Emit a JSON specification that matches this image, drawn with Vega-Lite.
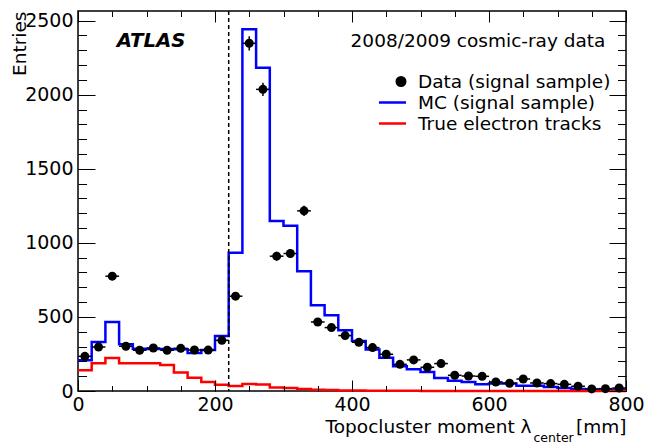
{
  "$schema": "https://vega.github.io/schema/vega-lite/v6.json",
  "width": 548,
  "height": 380,
  "autosize": {"type": "none"},
  "padding": {"left": 78, "top": 11, "right": 19, "bottom": 53},
  "background": "white",
  "config": {
    "view": {"stroke": "black", "strokeWidth": 1.5},
    "axis": {"grid": false, "domain": false, "labelFont": "DejaVu Sans", "titleFont": "DejaVu Sans", "labelColor": "black", "titleColor": "black", "tickColor": "black", "tickWidth": 1, "titleFontWeight": "normal", "labelFlush": false, "labelOverlap": false, "format": "d"}
  },
  "datasets": {
    "hist": [
      {"edge": 0, "mc": 208, "el": 140}, {"edge": 20, "mc": 331, "el": 188}, {"edge": 40, "mc": 466, "el": 223},
      {"edge": 60, "mc": 315, "el": 188}, {"edge": 80, "mc": 285, "el": 188}, {"edge": 100, "mc": 283, "el": 187},
      {"edge": 120, "mc": 283, "el": 175}, {"edge": 140, "mc": 282, "el": 125}, {"edge": 160, "mc": 257, "el": 89},
      {"edge": 180, "mc": 277, "el": 61}, {"edge": 200, "mc": 372, "el": 43}, {"edge": 220, "mc": 933, "el": 33},
      {"edge": 240, "mc": 2442, "el": 48}, {"edge": 260, "mc": 2182, "el": 44}, {"edge": 280, "mc": 1147, "el": 23},
      {"edge": 300, "mc": 1115, "el": 20}, {"edge": 320, "mc": 809, "el": 13}, {"edge": 340, "mc": 579, "el": 9},
      {"edge": 360, "mc": 511, "el": 6}, {"edge": 380, "mc": 410, "el": 4}, {"edge": 400, "mc": 338, "el": 3},
      {"edge": 420, "mc": 280, "el": 2}, {"edge": 440, "mc": 225, "el": 1}, {"edge": 460, "mc": 167, "el": 1},
      {"edge": 480, "mc": 146, "el": 1}, {"edge": 500, "mc": 128, "el": 0}, {"edge": 520, "mc": 88, "el": 0},
      {"edge": 540, "mc": 70, "el": 0}, {"edge": 560, "mc": 61, "el": 0}, {"edge": 580, "mc": 45, "el": 0},
      {"edge": 600, "mc": 50, "el": 0}, {"edge": 620, "mc": 50, "el": 0}, {"edge": 640, "mc": 36, "el": 0},
      {"edge": 660, "mc": 36, "el": 0}, {"edge": 680, "mc": 27, "el": 0}, {"edge": 700, "mc": 20, "el": 0},
      {"edge": 720, "mc": 14, "el": 0}, {"edge": 740, "mc": 8, "el": 0}, {"edge": 760, "mc": 8, "el": 0},
      {"edge": 780, "mc": 8, "el": 0}, {"edge": 800, "mc": 8, "el": 0}
    ],
    "pts": [
      {"lo": 0, "hi": 20, "x": 10, "n": 234, "err": 15}, {"lo": 20, "hi": 40, "x": 30, "n": 297, "err": 17},
      {"lo": 40, "hi": 60, "x": 50, "n": 775, "err": 28}, {"lo": 60, "hi": 80, "x": 70, "n": 302, "err": 17},
      {"lo": 80, "hi": 100, "x": 90, "n": 275, "err": 17}, {"lo": 100, "hi": 120, "x": 110, "n": 290, "err": 17},
      {"lo": 120, "hi": 140, "x": 130, "n": 275, "err": 17}, {"lo": 140, "hi": 160, "x": 150, "n": 288, "err": 17},
      {"lo": 160, "hi": 180, "x": 170, "n": 277, "err": 17}, {"lo": 180, "hi": 200, "x": 190, "n": 276, "err": 17},
      {"lo": 200, "hi": 220, "x": 210, "n": 342, "err": 18}, {"lo": 220, "hi": 240, "x": 230, "n": 640, "err": 25},
      {"lo": 240, "hi": 260, "x": 250, "n": 2347, "err": 48}, {"lo": 260, "hi": 280, "x": 270, "n": 2036, "err": 45},
      {"lo": 280, "hi": 300, "x": 290, "n": 910, "err": 30}, {"lo": 300, "hi": 320, "x": 310, "n": 928, "err": 30},
      {"lo": 320, "hi": 340, "x": 330, "n": 1216, "err": 35}, {"lo": 340, "hi": 360, "x": 350, "n": 466, "err": 22},
      {"lo": 360, "hi": 380, "x": 370, "n": 428, "err": 21}, {"lo": 380, "hi": 400, "x": 390, "n": 374, "err": 19},
      {"lo": 400, "hi": 420, "x": 410, "n": 329, "err": 18}, {"lo": 420, "hi": 440, "x": 430, "n": 293, "err": 17},
      {"lo": 440, "hi": 460, "x": 450, "n": 248, "err": 16}, {"lo": 460, "hi": 480, "x": 470, "n": 180, "err": 13},
      {"lo": 480, "hi": 500, "x": 490, "n": 210, "err": 14}, {"lo": 500, "hi": 520, "x": 510, "n": 160, "err": 13},
      {"lo": 520, "hi": 540, "x": 530, "n": 185, "err": 14}, {"lo": 540, "hi": 560, "x": 550, "n": 106, "err": 10},
      {"lo": 560, "hi": 580, "x": 570, "n": 101, "err": 10}, {"lo": 580, "hi": 600, "x": 590, "n": 99, "err": 10},
      {"lo": 600, "hi": 620, "x": 610, "n": 61, "err": 8}, {"lo": 620, "hi": 640, "x": 630, "n": 52, "err": 7},
      {"lo": 640, "hi": 660, "x": 650, "n": 81, "err": 9}, {"lo": 660, "hi": 680, "x": 670, "n": 54, "err": 7},
      {"lo": 680, "hi": 700, "x": 690, "n": 50, "err": 7}, {"lo": 700, "hi": 720, "x": 710, "n": 45, "err": 7},
      {"lo": 720, "hi": 740, "x": 730, "n": 32, "err": 6}, {"lo": 740, "hi": 760, "x": 750, "n": 14, "err": 4},
      {"lo": 760, "hi": 780, "x": 770, "n": 16, "err": 4}, {"lo": 780, "hi": 800, "x": 790, "n": 20, "err": 4}
    ]
  },
  "layer": [
    {
      "data": {"name": "hist"},
      "mark": {"type": "line", "interpolate": "step-after", "strokeWidth": 2.5},
      "encoding": {
        "x": {"field": "edge", "type": "quantitative", "scale": {"domain": [0, 800], "nice": false, "zero": false},
          "axis": {"orient": "bottom", "values": [0, 200, 400, 600, 800], "ticks": false, "labelFontSize": 19, "labelPadding": 4,
            "title": "Topocluster moment λ", "titleFontSize": 18.5, "titleAlign": "right", "titleX": 453, "titleY": 41, "titleBaseline": "alphabetic", "titleAngle": 0}},
        "y": {"field": "mc", "type": "quantitative", "scale": {"domain": [0, 2565], "nice": false, "zero": false},
          "axis": {"orient": "left", "values": [0, 500, 1000, 1500, 2000, 2500], "ticks": false, "labelFontSize": 19, "labelPadding": 5,
            "title": "Entries", "titleFontSize": 18.5, "titleAngle": -90, "titleAlign": "right", "titleX": -53, "titleY": 0, "titleBaseline": "alphabetic"}},
        "color": {"datum": "MC (signal sample)",
          "scale": {"domain": ["Data (signal sample)", "MC (signal sample)", "True electron tracks"], "range": ["black", "#0000ff", "#ff0000"]},
          "legend": {"title": null, "orient": "none", "legendX": 300, "legendY": 60, "padding": 0,
            "labelFont": "DejaVu Sans", "labelFontSize": 18.5, "labelColor": "black", "labelOffset": 19, "labelLimit": 0,
            "symbolSize": 324, "symbolStrokeWidth": 2.5, "rowPadding": 1,
            "encode": {"symbols": {"update": {
              "shape": {"signal": "datum.value === 'Data (signal sample)' ? 'circle' : 'M-1.5,0H1.5'"},
              "size": {"signal": "datum.value === 'Data (signal sample)' ? 72 : 324"},
              "fill": {"signal": "datum.value === 'Data (signal sample)' ? 'black' : 'transparent'"},
              "stroke": {"signal": "datum.value === 'Data (signal sample)' ? 'transparent' : (datum.value === 'MC (signal sample)' ? '#0000ff' : '#ff0000')"},
              "strokeWidth": {"value": 2.5},
              "opacity": {"value": 1},
              "x": {"signal": "datum.value === 'Data (signal sample)' ? 23 : 14.5"}
            }}}}}
      }
    },
    {
      "data": {"name": "hist"},
      "mark": {"type": "line", "interpolate": "step-after", "strokeWidth": 2.5},
      "encoding": {
        "x": {"field": "edge", "type": "quantitative", "scale": {"domain": [0, 800], "nice": false, "zero": false},
          "axis": {"orient": "bottom", "values": [0, 200, 400, 600, 800], "labels": false, "tickSize": -11, "title": null, "zindex": 1}},
        "y": {"field": "el", "type": "quantitative", "scale": {"domain": [0, 2565], "nice": false, "zero": false},
          "axis": {"orient": "left", "values": [0, 500, 1000, 1500, 2000, 2500], "labels": false, "tickSize": -17, "title": null, "zindex": 1}},
        "color": {"datum": "True electron tracks"}
      }
    },
    {
      "data": {"values": [{}]},
      "mark": {"type": "rule", "strokeDash": [4, 3], "strokeWidth": 1.5, "color": "black"},
      "encoding": {
        "x": {"datum": 220, "type": "quantitative", "scale": {"domain": [0, 800], "nice": false, "zero": false}, "axis": null}
      }
    },
    {
      "data": {"name": "pts"},
      "mark": {"type": "rule", "strokeWidth": 1.5, "color": "black"},
      "encoding": {
        "x": {"field": "lo", "type": "quantitative", "scale": {"domain": [0, 800], "nice": false, "zero": false},
          "axis": {"orient": "top", "values": [0, 200, 400, 600, 800], "labels": false, "tickSize": -11, "title": null, "zindex": 1}},
        "x2": {"field": "hi"},
        "y": {"field": "n", "type": "quantitative", "scale": {"domain": [0, 2565], "nice": false, "zero": false},
          "axis": {"orient": "right", "values": [0, 500, 1000, 1500, 2000, 2500], "labels": false, "tickSize": -17, "title": null, "zindex": 1}}
      }
    },
    {
      "data": {"name": "pts"},
      "mark": {"type": "errorbar", "color": "black", "thickness": 1.5},
      "encoding": {
        "x": {"field": "x", "type": "quantitative", "scale": {"domain": [0, 800], "nice": false, "zero": false},
          "axis": {"orient": "top", "values": [0, 50, 100, 150, 200, 250, 300, 350, 400, 450, 500, 550, 600, 650, 700, 750, 800], "labels": false, "tickSize": -5.5, "zindex": 1,
            "title": "[mm]", "titleFontSize": 18.5, "titleAlign": "right", "titleX": 548, "titleY": 421, "titleBaseline": "alphabetic", "titleAngle": 0}},
        "y": {"field": "n", "type": "quantitative", "scale": {"domain": [0, 2565], "nice": false, "zero": false},
          "axis": {"orient": "right", "values": [0, 100, 200, 300, 400, 500, 600, 700, 800, 900, 1000, 1100, 1200, 1300, 1400, 1500, 1600, 1700, 1800, 1900, 2000, 2100, 2200, 2300, 2400, 2500], "labels": false, "tickSize": -8.5, "title": null, "zindex": 1}},
        "yError": {"field": "err"}
      }
    },
    {
      "data": {"name": "pts"},
      "mark": {"type": "point", "filled": true, "shape": "circle", "size": 81, "opacity": 1},
      "encoding": {
        "x": {"field": "x", "type": "quantitative", "scale": {"domain": [0, 800], "nice": false, "zero": false},
          "axis": {"orient": "bottom", "values": [0, 50, 100, 150, 200, 250, 300, 350, 400, 450, 500, 550, 600, 650, 700, 750, 800], "labels": false, "tickSize": -5.5, "zindex": 1,
            "title": "center", "titleFontSize": 12.5, "titleAlign": "left", "titleX": 455, "titleY": 50, "titleBaseline": "alphabetic", "titleAngle": 0}},
        "y": {"field": "n", "type": "quantitative", "scale": {"domain": [0, 2565], "nice": false, "zero": false},
          "axis": {"orient": "left", "values": [0, 100, 200, 300, 400, 500, 600, 700, 800, 900, 1000, 1100, 1200, 1300, 1400, 1500, 1600, 1700, 1800, 1900, 2000, 2100, 2200, 2300, 2400, 2500], "labels": false, "tickSize": -8.5, "title": null, "zindex": 1}},
        "color": {"datum": "Data (signal sample)"}
      }
    },
    {
      "data": {"values": [{}]},
      "mark": {"type": "text", "text": "ATLAS", "font": "DejaVu Sans", "fontWeight": "bold", "fontStyle": "italic", "fontSize": 19.7, "align": "left", "baseline": "alphabetic", "color": "black"},
      "encoding": {
        "x": {"datum": 56.5, "type": "quantitative", "scale": {"domain": [0, 800], "nice": false, "zero": false}, "axis": null},
        "y": {"datum": 2322, "type": "quantitative", "scale": {"domain": [0, 2565], "nice": false, "zero": false}, "axis": null}
      }
    },
    {
      "data": {"values": [{}]},
      "mark": {"type": "text", "text": "2008/2009 cosmic-ray data", "font": "DejaVu Sans", "fontSize": 18.5, "align": "right", "baseline": "alphabetic", "color": "black"},
      "encoding": {
        "x": {"datum": 770, "type": "quantitative", "scale": {"domain": [0, 800], "nice": false, "zero": false}, "axis": null},
        "y": {"datum": 2322, "type": "quantitative", "scale": {"domain": [0, 2565], "nice": false, "zero": false}, "axis": null}
      }
    }
  ],
  "resolve": {"axis": {"x": "independent", "y": "independent"}}
}
